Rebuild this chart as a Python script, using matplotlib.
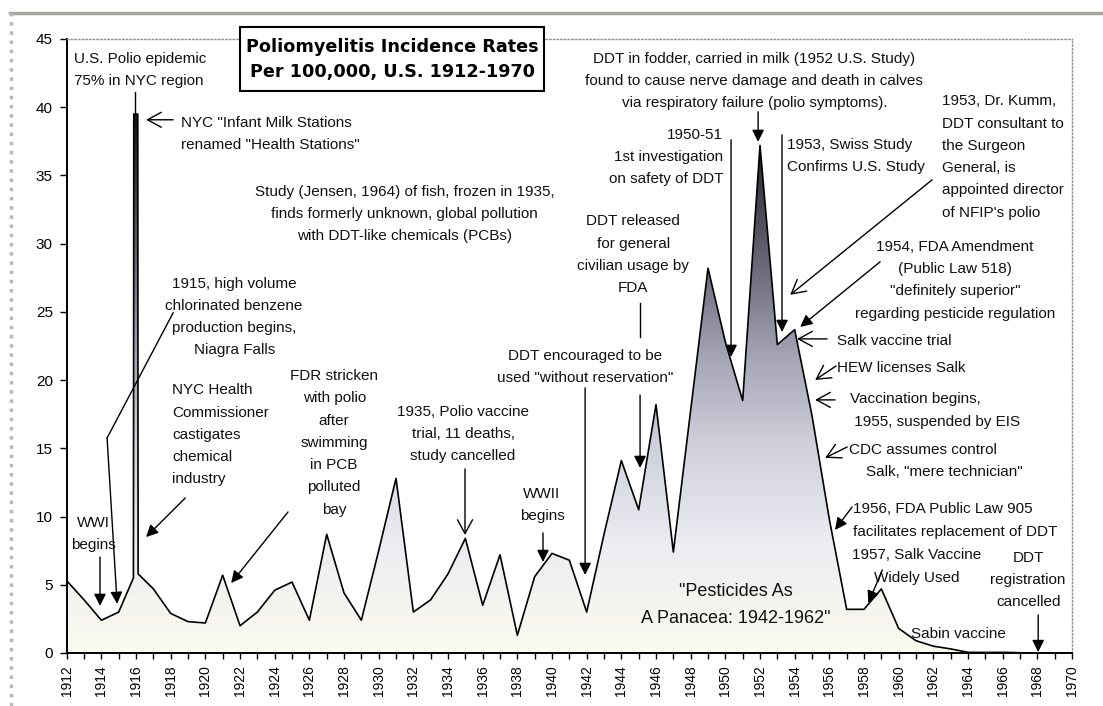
import numpy as np
import matplotlib
matplotlib.use("Agg")
import matplotlib.pyplot as plt
from matplotlib.colors import LinearSegmentedColormap
from matplotlib.patches import Rectangle
from matplotlib.lines import Line2D

plt.rcParams['font.family'] = ['Liberation Sans', 'DejaVu Sans']

# incidence per 100,000 (the 1916 epidemic is drawn as a narrow spike)
years = [1912, 1913, 1914, 1915, 1915.85, 1915.87, 1916.1, 1916.12, 1917, 1918,
         1919, 1920, 1921, 1922, 1923, 1924, 1925, 1926, 1927, 1928,
         1929, 1930, 1931, 1932, 1933, 1934, 1935, 1936, 1937, 1938,
         1939, 1940, 1941, 1942, 1943, 1944, 1945, 1946, 1947, 1948,
         1949, 1950, 1951, 1952, 1953, 1954, 1955, 1956, 1957, 1958,
         1959, 1960, 1961, 1962, 1963, 1964, 1965, 1966, 1967]
rates = [5.3, 3.9, 2.4, 3.0, 5.5, 39.5, 39.5, 5.8, 4.7, 2.9,
         2.3, 2.2, 5.7, 2.0, 3.0, 4.6, 5.2, 2.4, 8.7, 4.4,
         2.4, 7.5, 12.8, 3.0, 3.9, 5.8, 8.4, 3.5, 7.2, 1.3,
         5.6, 7.3, 6.8, 3.0, 8.7, 14.1, 10.5, 18.2, 7.4, 17.8,
         28.2, 22.8, 18.5, 37.2, 22.6, 23.7, 17.4, 9.8, 3.2, 3.2,
         4.7, 1.8, 0.9, 0.5, 0.3, 0.05, 0.04, 0.05, 0.02]

x_ticks = list(range(1912, 1971, 2))
y_ticks = list(range(0, 46, 5))

fig = plt.figure(figsize=(11.03, 7.06), dpi=100)
W, H = 1103, 706
ax = fig.add_axes([66.7 / W, (H - 653) / H, (1072 - 66.7) / W, (653 - 39) / H])

# gradient filled area
cmap = LinearSegmentedColormap.from_list('fade', [
    (0.0, '#fbfbef'), (0.2, '#ececf2'), (0.38, '#d0d0dc'), (0.55, '#a2a2b2'),
    (0.7, '#6c6c7c'), (0.85, '#3e3e48'), (1.0, '#111111')])
poly = ax.fill_between(years, rates, 0, color='none', lw=0)
grad = np.linspace(0, 1, 256).reshape(-1, 1)
im = ax.imshow(grad, extent=[1912, 1970, 0, 40], origin='lower', aspect='auto',
               cmap=cmap, zorder=1)
im.set_clip_path(poly.get_paths()[0], transform=ax.transData)
ax.plot(years, rates, color='black', lw=1.2, zorder=3)

ax.set_xlim(1912, 1970)
ax.set_ylim(0, 45)
ax.set_xticks(x_ticks)
ax.set_xticks(range(1912, 1971), minor=True)
ax.set_xticklabels([str(t) for t in x_ticks], rotation=90, fontsize=10)
ax.set_yticks(y_ticks)
ax.set_yticklabels([str(t) for t in y_ticks], fontsize=11)
ax.tick_params(axis='x', which='both', direction='out', length=4, width=1, pad=5)
ax.tick_params(axis='y', direction='out', length=5, width=1, pad=5)
for s in ['left', 'bottom']:
    ax.spines[s].set_linewidth(1.4)
for s in ['top', 'right']:
    ax.spines[s].set_color('#909090')
    ax.spines[s].set_linestyle(':')
    ax.spines[s].set_linewidth(1)

# outer window frame
fig.add_artist(Line2D([10 / W, 1], [1 - 13 / H, 1 - 13 / H], color='#a8a8a0', lw=2.5,
                      transform=fig.transFigure))
fig.add_artist(Line2D([11 / W, 11 / W], [0, 1 - 13 / H], color='#b8b8b8', lw=2.5, ls=':',
                      transform=fig.transFigure))

# title box
fig.add_artist(Rectangle((240 / W, 1 - 91 / H), 304 / W, 64 / H, transform=fig.transFigure,
                         facecolor='white', edgecolor='black', lw=1.5, zorder=5))
fig.text(392 / W, 1 - 59 / H, "Poliomyelitis Incidence Rates\nPer 100,000, U.S. 1912-1970",
         ha='center', va='center', fontsize=12.7, fontweight='bold', family='DejaVu Sans',
         linespacing=1.5, zorder=6)

FS = 11
LS = 1.75


def note(x, y, s, ha='center', **kw):
    kw.setdefault('fontsize', FS)
    kw.setdefault('linespacing', LS)
    ax.text(x, y, s, ha=ha, va='center', color='#111111', zorder=6, clip_on=False, **kw)


def arrow(tail, tip, filled=True):
    if filled:
        props = dict(arrowstyle='-|>', mutation_scale=18, color='black', lw=1,
                     shrinkA=0, shrinkB=0)
    else:
        props = dict(arrowstyle='->,head_length=0.55,head_width=0.3', mutation_scale=18,
                     color='black', lw=1, shrinkA=0, shrinkB=0)
    ax.annotate('', xy=tip, xytext=tail, arrowprops=props, zorder=6, annotation_clip=False)


def line(xs, ys):
    ax.plot(xs, ys, color='black', lw=1, zorder=6, clip_on=False)


note(1912.42, 42.74, "U.S. Polio epidemic\n75% in NYC region", ha='left')
line([1915.94, 1915.94], [41.13, 39.59])

note(1918.6, 38.05, 'NYC "Infant Milk Stations\nrenamed "Health Stations"', ha='left')
arrow((1918.14, 39.08), (1916.58, 39.08), filled=False)

note(1931.48, 32.18, "Study (Jensen, 1964) of fish, frozen in 1935,\n"
     "finds formerly unknown, global pollution\nwith DDT-like chemicals (PCBs)")

note(1921.66, 24.63, "1915, high volume\nchlorinated benzene\nproduction begins,\nNiagra Falls")
line([1918.14, 1914.33], [24.93, 15.76])
arrow((1914.33, 15.76), (1914.91, 3.6))

note(1918.08, 15.98, "NYC Health\nCommissioner\ncastigates\nchemical\nindustry", ha='left')
arrow((1918.84, 11.36), (1916.58, 8.5))

note(1927.43, 15.40, "FDR stricken\nwith polio\nafter\nswimming\nin PCB\npolluted\nbay")
arrow((1924.77, 10.34), (1921.49, 5.13))

note(1934.87, 16.06, "1935, Polio vaccine\ntrial, 11 deaths,\nstudy cancelled")
arrow((1934.98, 13.49), (1934.98, 8.65), filled=False)

note(1913.52, 8.72, "WWI\nbegins")
arrow((1913.92, 7.04), (1913.92, 3.45))

note(1939.42, 10.85, "WWII\nbegins")
arrow((1939.48, 8.8), (1939.48, 6.67))

note(1941.91, 20.97, 'DDT encouraged to be\nused "without reservation"')
arrow((1941.91, 19.43), (1941.91, 5.72))

note(1944.68, 29.18, "DDT released\nfor general\ncivilian usage by\nFDA")
line([1945.08, 1945.08], [25.66, 23.17])
arrow((1945.08, 18.91), (1945.08, 13.56))

note(1949.87, 36.36, "1950-51\n1st investigation\non safety of DDT", ha='right')
arrow((1950.33, 37.61), (1950.33, 21.7))

note(1951.67, 41.94, "DDT in fodder, carried in milk (1952 U.S. Study)\n"
     "found to cause nerve damage and death in calves\n"
     "via respiratory failure (polio symptoms).")
arrow((1951.89, 39.66), (1951.89, 37.46))

note(1953.56, 36.40, "1953, Swiss Study\nConfirms U.S. Study", ha='left')
arrow((1953.27, 37.98), (1953.27, 23.53))

note(1962.5, 36.36, "1953, Dr. Kumm,\nDDT consultant to\nthe Surgeon\nGeneral, is\n"
     "appointed director\nof NFIP's polio", ha='left')
arrow((1961.93, 34.68), (1953.74, 26.25), filled=False)

note(1963.26, 27.31, '1954, FDA Amendment\n(Public Law 518)\n"definitely superior"\n'
     'regarding pesticide regulation')
arrow((1958.93, 28.67), (1954.32, 23.9))

note(1956.45, 22.87, "Salk vaccine trial", ha='left')
arrow((1955.87, 23.02), (1954.14, 23.02), filled=False)

note(1956.45, 20.89, "HEW licenses Salk", ha='left')
arrow((1956.39, 21.04), (1955.18, 20.01), filled=False)

note(1957.19, 17.78, "Vaccination begins,\n 1955, suspended by EIS", ha='left')
arrow((1956.33, 18.55), (1955.18, 18.55), filled=False)

note(1957.14, 14.08, 'CDC assumes control\n    Salk, "mere technician"', ha='left')
arrow((1957.03, 15.1), (1955.76, 14.3), filled=False)

note(1957.37, 9.71, "1956, FDA Public Law 905\nfacilitates replacement of DDT", ha='left')
arrow((1957.31, 10.7), (1956.33, 9.02))

note(1961.06, 6.34, "1957, Salk Vaccine\nWidely Used")
arrow((1959.06, 6.09), (1958.25, 3.67))

note(1967.47, 5.35, "DDT\nregistration\ncancelled")
arrow((1968.05, 2.79), (1968.05, 0.07))

note(1963.44, 1.39, "Sabin vaccine")

note(1950.62, 3.52, '"Pesticides As\nA Panacea: 1942-1962"', fontsize=13, linespacing=1.75)

fig.savefig("out.png", dpi=100)
